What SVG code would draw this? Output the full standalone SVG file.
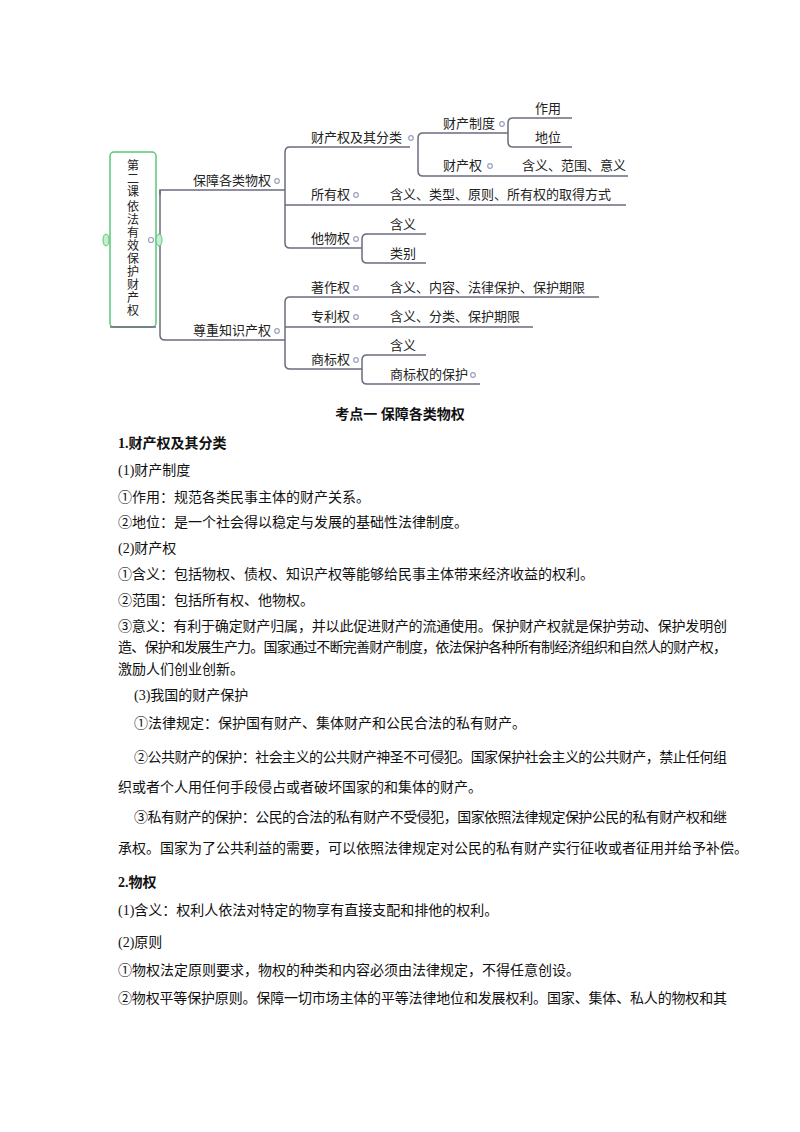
<svg xmlns="http://www.w3.org/2000/svg" width="800" height="1132" viewBox="0 0 800 1132">
<style>
.m{font-family:"Noto Sans CJK SC","Liberation Sans",sans-serif;font-size:13px;fill:#222}
.l{fill:none;stroke:#6b6b7e;stroke-width:1.5}
.h{fill:#fff;stroke:#9aa0c0;stroke-width:1.2}
.b{font-family:"Liberation Serif","Noto Sans CJK SC",serif;font-size:14px;fill:#111}
.bb{font-weight:bold}
</style>
<rect width="800" height="1132" fill="#fff"/>
<g id="connectors">
<path class="l" d="M160 190 V335 Q160 340 165 340 H285"/>
<path class="l" d="M285 190 H160 V195"/>
<path class="l" d="M285 152 Q285 147 290 147 H410 M285 152 V243 Q285 248 290 248 H362 M285 205 H626"/>
<path class="l" d="M362 239 Q362 234 367 234 H426 M362 239 V258 Q362 263 367 263 H426"/>
<path class="l" d="M418 138 Q418 133 423 133 H508 M418 138 V171 Q418 176 423 176 H628"/>
<path class="l" d="M508 123 Q508 118 513 118 H572 M508 123 V142 Q508 147 513 147 H572"/>
<path class="l" d="M285 302 Q285 297 290 297 H599 M285 302 V364 Q285 369 290 369 H362 M285 327 H533"/>
<path class="l" d="M362 360 Q362 355 367 355 H426 M362 360 V379 Q362 384 367 384 H480"/>
</g>
<g id="root">
<rect x="110" y="152" width="46" height="175" rx="4" fill="#fff" stroke="#58c878" stroke-width="1.5"/>
<line x1="110" y1="327" x2="156" y2="327" stroke="#6b6b7e" stroke-width="1.5"/>
<ellipse cx="106" cy="240" rx="3" ry="6" fill="#c8ecd0" stroke="#58c878"/>
<ellipse cx="159" cy="240" rx="3" ry="6" fill="#c8ecd0" stroke="#58c878"/>
<circle class="h" cx="151" cy="240" r="2.5"/>
<text class="m" x="133" y="170" text-anchor="middle" style="font-size:12px">
<tspan x="133" dy="0">第</tspan><tspan x="133" dy="13">二</tspan><tspan x="133" dy="13">课</tspan><tspan x="133" dy="15">依</tspan><tspan x="133" dy="13">法</tspan><tspan x="133" dy="13">有</tspan><tspan x="133" dy="13">效</tspan><tspan x="133" dy="13">保</tspan><tspan x="133" dy="13">护</tspan><tspan x="133" dy="13">财</tspan><tspan x="133" dy="13">产</tspan><tspan x="133" dy="13">权</tspan></text>
</g>
<g id="n1"><text class="m" x="193" y="185">保障各类物权</text><circle class="h" cx="277" cy="181" r="2.3"/></g>
<g id="n2"><text class="m" x="193" y="335">尊重知识产权</text><circle class="h" cx="277" cy="331" r="2.3"/></g>
<g id="n11"><text class="m" x="311" y="142">财产权及其分类</text><circle class="h" cx="411" cy="138" r="2.3"/></g>
<g id="n111"><text class="m" x="443" y="128">财产制度</text><circle class="h" cx="502" cy="124" r="2.3"/></g>
<g id="n1111"><text class="m" x="535" y="113">作用</text></g>
<g id="n1112"><text class="m" x="535" y="142">地位</text></g>
<g id="n112"><text class="m" x="443" y="170">财产权</text><circle class="h" cx="490" cy="166" r="2.3"/></g>
<g id="n1121"><text class="m" x="522" y="170">含义、范围、意义</text></g>
<g id="n12"><text class="m" x="311" y="199">所有权</text><circle class="h" cx="356" cy="195" r="2.3"/></g>
<g id="n121"><text class="m" x="390" y="199">含义、类型、原则、所有权的取得方式</text></g>
<g id="n13"><text class="m" x="311" y="243">他物权</text><circle class="h" cx="356" cy="239" r="2.3"/></g>
<g id="n131"><text class="m" x="390" y="229">含义</text></g>
<g id="n132"><text class="m" x="390" y="258">类别</text></g>
<g id="n21"><text class="m" x="311" y="292">著作权</text><circle class="h" cx="356" cy="288" r="2.3"/></g>
<g id="n211"><text class="m" x="390" y="292">含义、内容、法律保护、保护期限</text></g>
<g id="n22"><text class="m" x="311" y="321">专利权</text><circle class="h" cx="356" cy="317" r="2.3"/></g>
<g id="n221"><text class="m" x="390" y="321">含义、分类、保护期限</text></g>
<g id="n23"><text class="m" x="311" y="364">商标权</text><circle class="h" cx="356" cy="360" r="2.3"/></g>
<g id="n231"><text class="m" x="390" y="350">含义</text></g>
<g id="n232"><text class="m" x="390" y="379">商标权的保护</text><circle class="h" cx="473" cy="375" r="2.3"/></g>
<g id="body">
<text class="b bb" x="400" y="419" text-anchor="middle">考点一  保障各类物权</text>
<text class="b bb" x="118" y="448">1.财产权及其分类</text>
<text class="b" x="118" y="475">(1)财产制度</text>
<text class="b" x="118" y="502">①作用：规范各类民事主体的财产关系。</text>
<text class="b" x="118" y="527">②地位：是一个社会得以稳定与发展的基础性法律制度。</text>
<text class="b" x="118" y="553">(2)财产权</text>
<text class="b" x="118" y="579">①含义：包括物权、债权、知识产权等能够给民事主体带来经济收益的权利。</text>
<text class="b" x="118" y="605">②范围：包括所有权、他物权。</text>
<text class="b" x="118" y="631" textLength="609" lengthAdjust="spacing">③意义：有利于确定财产归属，并以此促进财产的流通使用。保护财产权就是保护劳动、保护发明创</text>
<text class="b" x="118" y="652" textLength="609" lengthAdjust="spacing">造、保护和发展生产力。国家通过不断完善财产制度，依法保护各种所有制经济组织和自然人的财产权，</text>
<text class="b" x="118" y="674">激励人们创业创新。</text>
<text class="b" x="134" y="700">(3)我国的财产保护</text>
<text class="b" x="134" y="728">①法律规定：保护国有财产、集体财产和公民合法的私有财产。</text>
<text class="b" x="134" y="762" textLength="593" lengthAdjust="spacing">②公共财产的保护：社会主义的公共财产神圣不可侵犯。国家保护社会主义的公共财产，禁止任何组</text>
<text class="b" x="118" y="792">织或者个人用任何手段侵占或者破坏国家的和集体的财产。</text>
<text class="b" x="134" y="822" textLength="593" lengthAdjust="spacing">③私有财产的保护：公民的合法的私有财产不受侵犯，国家依照法律规定保护公民的私有财产权和继</text>
<text class="b" x="118" y="853">承权。国家为了公共利益的需要，可以依照法律规定对公民的私有财产实行征收或者征用并给予补偿。</text>
<text class="b bb" x="118" y="887">2.物权</text>
<text class="b" x="118" y="915">(1)含义：权利人依法对特定的物享有直接支配和排他的权利。</text>
<text class="b" x="118" y="947">(2)原则</text>
<text class="b" x="118" y="975">①物权法定原则要求，物权的种类和内容必须由法律规定，不得任意创设。</text>
<text class="b" x="118" y="1003" textLength="609" lengthAdjust="spacing">②物权平等保护原则。保障一切市场主体的平等法律地位和发展权利。国家、集体、私人的物权和其</text>
</g>
</svg>
